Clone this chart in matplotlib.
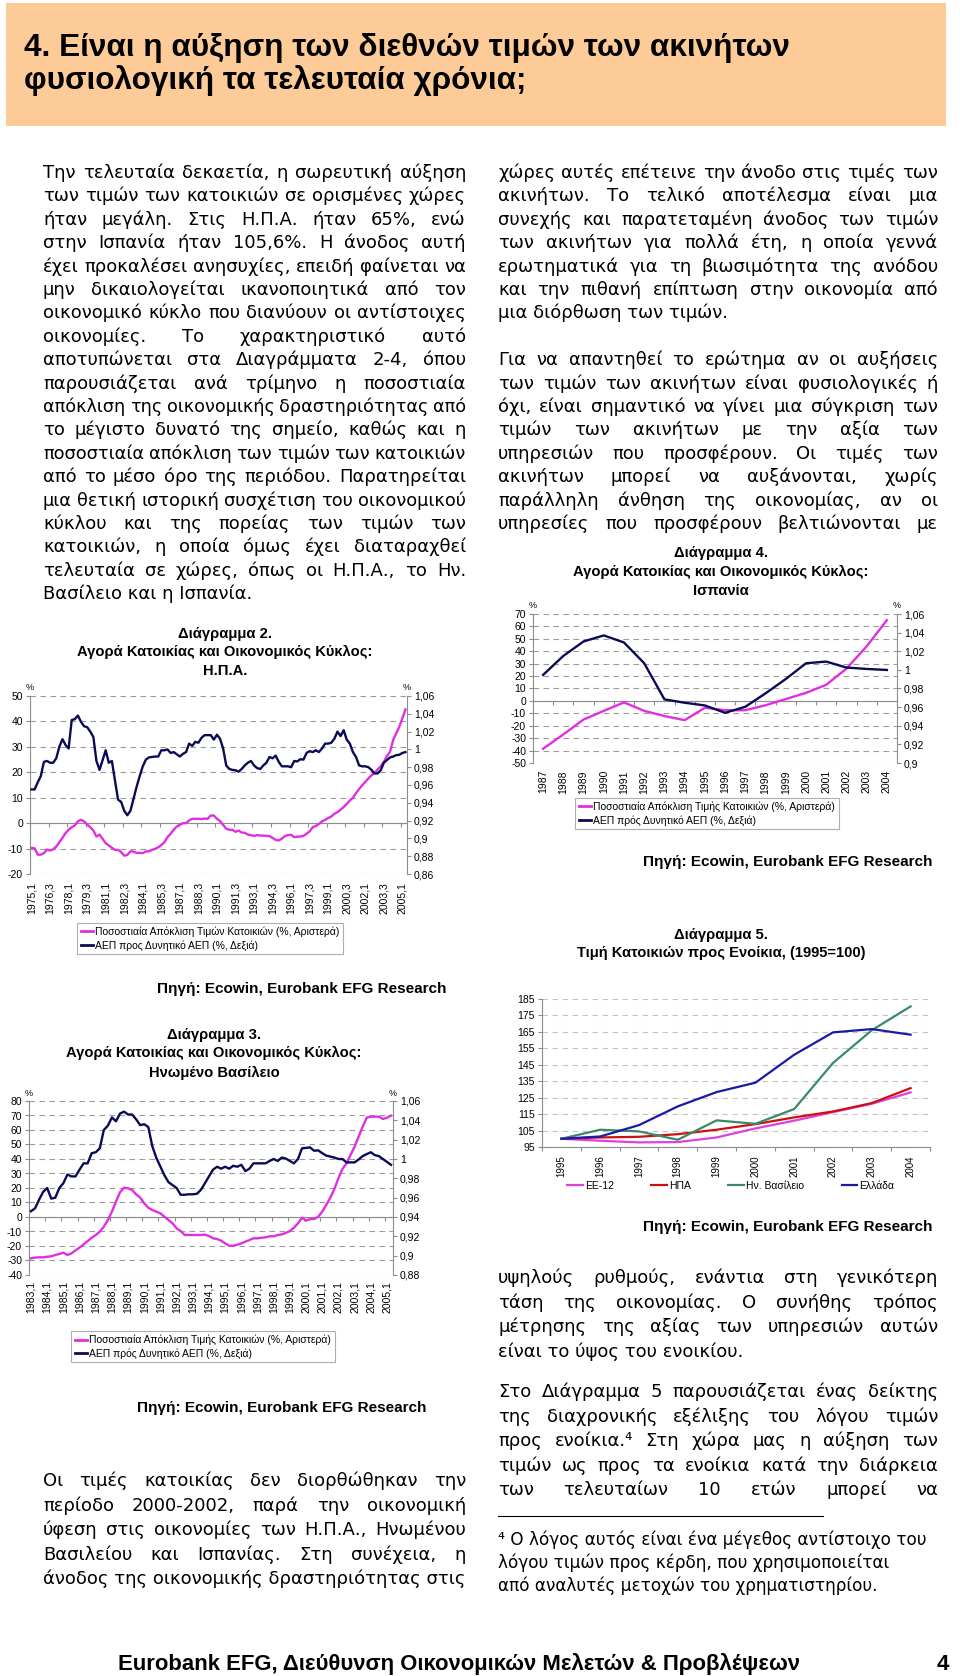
import numpy as np
import matplotlib
matplotlib.use("Agg")
import matplotlib.pyplot as plt
from matplotlib.lines import Line2D
from matplotlib.patches import Rectangle
from matplotlib.ticker import FuncFormatter

plt.rcParams["axes.unicode_minus"] = False
plt.rcParams["font.family"] = ["DejaVu Sans"]

W, H = 960, 1676
BODY = ["DejaVu Sans"]
ARIAL = ["Liberation Sans", "DejaVu Sans"]
GRAY = "#8c8c8c"
PINK = "#E02FE0"
NAVY = "#0B0B55"

# ---------------- data ----------------
# Διάγραμμα 2, Η.Π.Α., 1975,1 - 2005,2
usa_price = [-9.7, -9.9, -12.4, -12.4, -11.8, -10.4, -10.8, -10.3, -9.2, -7.5,
             -5.8, -3.9, -2.6, -1.6, -0.9, 0.7, 1.3, 0.7, -0.5, -1.6,
             -2.9, -5.3, -4.5, -6.2, -7.9, -8.8, -9.7, -10.5, -10.5, -11.4,
             -12.8, -12.5, -11.1, -11.2, -11.7, -11.7, -11.8, -11.1, -11.1, -10.5,
             -10.1, -9.5, -8.6, -7.5, -5.5, -4.2, -2.6, -1.3, -0.7, 0.0,
             0.0, 1.1, 1.7, 1.7, 1.7, 1.6, 1.8, 1.7, 3.0, 3.0,
             1.7, 0.8, -0.7, -2.2, -2.6, -2.6, -3.4, -2.9, -3.7, -3.8,
             -4.5, -4.7, -5.0, -4.7, -4.9, -4.9, -5.0, -5.1, -5.8, -6.6,
             -6.8, -6.1, -5.1, -4.7, -4.6, -5.5, -5.3, -5.3, -5.0, -4.2,
             -3.2, -1.6, -1.1, -0.3, 0.7, 1.3, 2.0, 2.6, 3.7, 4.3,
             5.3, 6.3, 7.6, 8.9, 10.0, 11.8, 13.4, 14.9, 16.2, 17.6,
             18.8, 19.7, 21.1, 22.4, 24.1, 26.4, 28.0, 32.6, 35.3, 37.9,
             41.2, 44.7]
usa_gdp = [0.955, 0.955, 0.963, 0.970, 0.986, 0.987, 0.985, 0.985, 0.990, 1.003,
           1.0115, 1.005, 1.001, 1.033, 1.034, 1.038, 1.031, 1.026, 1.025, 1.020,
           1.014, 0.987, 0.977, 0.988, 0.999, 0.985, 0.987, 0.965, 0.9435, 0.941,
           0.931, 0.926, 0.931, 0.9445, 0.958, 0.970, 0.981, 0.9885, 0.991, 0.9915,
           0.992, 0.992, 0.999, 0.999, 1.000, 0.996, 0.997, 0.9945, 0.992, 0.995,
           0.997, 1.0065, 1.004, 1.0085, 1.0075, 1.013, 1.016, 1.016, 1.016, 1.011,
           1.0165, 1.012, 1.001, 0.982, 0.978, 0.977, 0.9765, 0.975, 0.978, 0.982,
           0.985, 0.987, 0.982, 0.979, 0.978, 0.982, 0.985, 0.9915, 0.990, 0.993,
           0.986, 0.981, 0.981, 0.981, 0.980, 0.987, 0.9865, 0.989, 0.9885, 0.996,
           0.998, 0.997, 0.999, 0.997, 1.001, 1.0065, 1.0065, 1.0075, 1.012, 1.020,
           1.015, 1.0215, 1.011, 1.0065, 0.997, 0.9915, 0.982, 0.981, 0.981, 0.980,
           0.977, 0.973, 0.973, 0.9765, 0.985, 0.988, 0.991, 0.992, 0.9935, 0.994,
           0.996, 0.997]
usa_quarters = [f"{1975 + i // 4},{i % 4 + 1}" for i in range(len(usa_price))]

# Διάγραμμα 3, Ηνωμένο Βασίλειο, 1983,1 - 2005,2
uk_price = [-28.5, -28.0, -27.8, -27.8, -27.4, -27.1, -26.2, -25.5, -24.6, -26.2,
            -25.1, -23.0, -21.1, -18.9, -16.6, -14.3, -12.4, -10.1, -6.7, -2.1,
            3.7, 10.6, 17.0, 20.2, 19.8, 18.6, 15.6, 13.3, 9.4, 6.4,
            4.8, 3.7, 2.5, 0.2, -2.1, -4.4, -7.8, -9.7, -12.4, -12.4,
            -12.4, -12.4, -12.4, -12.2, -13.1, -14.7, -15.2, -16.3, -18.2, -19.8,
            -19.8, -19.1, -18.2, -17.0, -15.9, -14.7, -14.7, -14.3, -14.0, -13.3,
            -13.3, -12.4, -12.0, -11.0, -9.7, -7.4, -4.4, -0.5, -2.5, -1.4,
            -1.4, 0.2, 3.7, 8.3, 13.3, 19.3, 26.7, 33.1, 37.0, 42.8,
            48.5, 55.4, 62.3, 68.5, 69.2, 69.2, 69.2, 67.6, 68.5, 69.9]
uk_gdp = [0.946, 0.949, 0.958, 0.966, 0.970, 0.959, 0.960, 0.970, 0.975, 0.984,
          0.982, 0.982, 0.989, 0.9955, 0.9955, 1.006, 1.007, 1.011, 1.030, 1.0345,
          1.043, 1.039, 1.047, 1.049, 1.046, 1.046, 1.041, 1.035, 1.036, 1.033,
          1.013, 1.001, 0.992, 0.983, 0.976, 0.973, 0.970, 0.963, 0.963, 0.9635,
          0.9635, 0.964, 0.968, 0.975, 0.982, 0.989, 0.992, 0.990, 0.992, 0.990,
          0.993, 0.992, 0.994, 0.9875, 0.990, 0.9955, 0.9955, 0.9955, 0.9955, 0.998,
          1.000, 0.998, 1.0015, 1.0005, 0.998, 0.9955, 1.000, 1.011, 1.0115, 1.012,
          1.0085, 1.009, 1.006, 1.0035, 1.0025, 1.0015, 1.000, 1.000, 0.9965, 0.9965,
          0.9965, 0.9995, 1.003, 1.005, 1.007, 1.004, 1.003, 1.000, 0.997, 0.994]
uk_quarters = [f"{1983 + i // 4},{i % 4 + 1}" for i in range(len(uk_price))]

# Διάγραμμα 4, Ισπανία
es_years = [str(y) for y in range(1987, 2005)]
es_price = [-38.5, -27, -15, -8, -1.2, -8, -12.2, -15.5, -5.5, -7.5,
            -7.5, -3.5, 1.5, 6.5, 13, 26, 44, 65]
es_gdp = [0.9946, 1.015, 1.0305, 1.037, 1.0294, 1.0071, 0.9683, 0.9647, 0.9618, 0.9539,
          0.9604, 0.9748, 0.9902, 1.0071, 1.0089, 1.0025, 1.001, 0.9999]

# Διάγραμμα 5, τιμή κατοικιών προς ενοίκια (1995=100)
rent_years = [str(y) for y in range(1995, 2005)]
rent_eu12 = [100, 98.8, 97.8, 98.0, 100.8, 106.3, 111.0, 116.2, 121.3, 128.2]
rent_usa = [100, 100.8, 101.2, 102.8, 105.5, 108.9, 113.0, 116.6, 121.7, 130.8]
rent_uk = [100, 105.5, 104.5, 99.4, 111.2, 109.1, 118.1, 146.1, 166.0, 180.5]
rent_gr = [100, 101.4, 108.3, 119.7, 128.4, 134.1, 151.1, 164.7, 166.7, 163.3]
rent_labels = ["EE-12", "ΗΠΑ", "Ην. Βασίλειο", "Ελλάδα"]

# ---------------- page ----------------
fig = plt.figure(figsize=(9.6, 16.76), dpi=100)
renderer = fig.canvas.get_renderer()


def fx(x):
    return x / W


def fy(y):
    return 1 - y / H


def put(x, y, s, **kw):
    return fig.text(fx(x), fy(y), s, **kw)


def width_of(s, size, family):
    t = put(0, 0, s, fontsize=size, family=family)
    w = t.get_window_extent(renderer).width
    t.remove()
    return w


def paragraph(lines, x0, x1, y0, dy, size=13, last_justified=False):
    span = x1 - x0
    for k, line in enumerate(lines):
        y = y0 + k * dy
        words = line.split()
        sz = size
        ws = [width_of(w, sz, BODY) for w in words]
        min_gap = 0.3 * sz * 100 / 72
        natural = sum(ws) + min_gap * (len(words) - 1)
        if natural > span:
            sz = size * span / natural
            ws = [width_of(w, sz, BODY) for w in words]
        if (k == len(lines) - 1 and not last_justified) or len(words) < 2:
            put(x0, y, " ".join(words), fontsize=sz, family=BODY, va="baseline")
            continue
        gap = (span - sum(ws)) / (len(words) - 1)
        x = x0
        for w, wd in zip(words, ws):
            put(x, y, w, fontsize=sz, family=BODY, va="baseline")
            x += wd + gap


# header
fig.add_artist(Rectangle((fx(6), fy(126)), 940 / W, 123 / H, transform=fig.transFigure,
                         facecolor="#FCCB98", edgecolor="none"))
put(24, 56, "4. Είναι η αύξηση των διεθνών τιμών των ακινήτων", fontsize=22.7,
    weight="bold", family=ARIAL, va="baseline")
put(24, 89, "φυσιολογική τα τελευταία χρόνια;", fontsize=22.7,
    weight="bold", family=ARIAL, va="baseline")

LX0, LX1 = 43, 466
RX0, RX1 = 498, 938
Y1, DY = 178, 23.4

paragraph([
    "Την τελευταία δεκαετία, η σωρευτική αύξηση",
    "των τιμών των κατοικιών σε ορισμένες χώρες",
    "ήταν μεγάλη.  Στις Η.Π.Α. ήταν  65%, ενώ",
    "στην Ισπανία ήταν 105,6%.  Η άνοδος αυτή",
    "έχει προκαλέσει ανησυχίες, επειδή φαίνεται να",
    "μην δικαιολογείται ικανοποιητικά από τον",
    "οικονομικό κύκλο που διανύουν οι αντίστοιχες",
    "οικονομίες.  Το χαρακτηριστικό αυτό",
    "αποτυπώνεται στα Διαγράμματα 2-4, όπου",
    "παρουσιάζεται ανά τρίμηνο η ποσοστιαία",
    "απόκλιση της οικονομικής δραστηριότητας από",
    "το μέγιστο δυνατό της σημείο, καθώς και η",
    "ποσοστιαία απόκλιση των τιμών των κατοικιών",
    "από το μέσο όρο της περιόδου.  Παρατηρείται",
    "μια θετική ιστορική συσχέτιση του οικονομικού",
    "κύκλου και της πορείας των τιμών των",
    "κατοικιών, η οποία όμως έχει διαταραχθεί",
    "τελευταία σε χώρες, όπως οι Η.Π.Α., το Ην.",
    "Βασίλειο και η Ισπανία.",
], LX0, LX1, Y1, DY)

paragraph([
    "χώρες αυτές επέτεινε την άνοδο στις τιμές των",
    "ακινήτων.  Το τελικό αποτέλεσμα είναι μια",
    "συνεχής και παρατεταμένη άνοδος των τιμών",
    "των ακινήτων για πολλά έτη, η οποία γεννά",
    "ερωτηματικά για τη βιωσιμότητα της ανόδου",
    "και την πιθανή επίπτωση στην οικονομία από",
    "μια διόρθωση των τιμών.",
], RX0, RX1, Y1, DY)

paragraph([
    "Για να απαντηθεί το ερώτημα αν οι αυξήσεις",
    "των τιμών των ακινήτων είναι φυσιολογικές ή",
    "όχι, είναι σημαντικό να γίνει μια σύγκριση των",
    "τιμών των ακινήτων με την αξία των",
    "υπηρεσιών που προσφέρουν.  Οι τιμές των",
    "ακινήτων μπορεί να αυξάνονται, χωρίς",
    "παράλληλη άνθηση της οικονομίας, αν οι",
    "υπηρεσίες που προσφέρουν βελτιώνονται με",
], RX0, RX1, Y1 + 8 * DY, DY, last_justified=True)

paragraph([
    "υψηλούς ρυθμούς, ενάντια στη γενικότερη",
    "τάση της οικονομίας.  Ο συνήθης τρόπος",
    "μέτρησης της αξίας των υπηρεσιών αυτών",
    "είναι το ύψος του ενοικίου.",
], RX0, RX1, 1283, 24.5)

paragraph([
    "Στο Διάγραμμα 5 παρουσιάζεται ένας δείκτης",
    "της διαχρονικής εξέλιξης του λόγου τιμών",
    "προς ενοίκια.⁴  Στη χώρα μας η αύξηση των",
    "τιμών ως προς τα ενοίκια κατά την διάρκεια",
    "των τελευταίων 10 ετών μπορεί να",
], RX0, RX1, 1397, 24.5, last_justified=True)

fig.add_artist(Line2D([fx(498), fx(823)], [fy(1516), fy(1516)], color="black", lw=0.8))
for k, line in enumerate([
    "⁴ Ο λόγος αυτός είναι ένα μέγεθος αντίστοιχο του",
    "λόγου τιμών προς κέρδη, που χρησιμοποιείται",
    "από αναλυτές μετοχών του χρηματιστηρίου.",
]):
    put(RX0, 1545 + k * 23, line, fontsize=12.2, family=BODY, va="baseline")

paragraph([
    "Οι τιμές κατοικίας δεν διορθώθηκαν την",
    "περίοδο 2000-2002, παρά την οικονομική",
    "ύφεση στις οικονομίες των Η.Π.Α., Ηνωμένου",
    "Βασιλείου και Ισπανίας.  Στη συνέχεια, η",
    "άνοδος της οικονομικής δραστηριότητας στις",
], LX0, LX1, 1486, 24.6)

put(118, 1670, "Eurobank EFG, Διεύθυνση Οικονομικών Μελετών & Προβλέψεων",
    fontsize=15.9, weight="bold", family=ARIAL, va="baseline")
put(937, 1670, "4", fontsize=15.9, weight="bold", family=ARIAL, va="baseline")


# ---------------- charts ----------------
def comma(v, pos):
    s = f"{v:.2f}".rstrip("0").rstrip(".")
    return s.replace(".", ",")


def title(lines, cx, ys):
    for s, y in zip(lines, ys):
        put(cx, y, s, fontsize=10.6, weight="bold", family=ARIAL, ha="center", va="center")


def source(cx, y):
    put(cx, y, "Πηγή: Ecowin, Eurobank EFG Research", fontsize=11, weight="bold",
        family=ARIAL, ha="center", va="center")


def cat_labels(ax, labels, step, gap_px, height_px, size=7.5):
    for i in range(0, len(labels), step):
        ax.text(i, -gap_px / height_px, labels[i], rotation=90, ha="center", va="top",
                transform=ax.get_xaxis_transform(), fontsize=size, family=ARIAL)


def cycle_chart(box, price, gdp, labels, step, lims, lticks, rlims, rticks, gap_px):
    x0, y0, x1, y1 = box
    ax = fig.add_axes([fx(x0), fy(y1), (x1 - x0) / W, (y1 - y0) / H])
    n = len(price)
    xs = np.arange(n)
    ax.plot(xs, price, color=PINK, lw=1.7, zorder=3)
    ax.set_xlim(-0.5, n - 0.5)
    ax.set_ylim(*lims)
    ax.set_yticks(lticks)
    rax = ax.twinx()
    rax.plot(xs, gdp, color=NAVY, lw=1.7)
    rax.set_ylim(*rlims)
    rax.set_yticks(rticks)
    rax.yaxis.set_major_formatter(FuncFormatter(comma))

    ax.spines["top"].set_visible(False)
    ax.spines["right"].set_visible(False)
    rax.spines["top"].set_visible(False)
    rax.spines["left"].set_visible(False)
    rax.spines["bottom"].set_visible(False)
    ax.spines["left"].set_color(GRAY)
    rax.spines["right"].set_color(GRAY)
    ax.spines["bottom"].set_color(GRAY)
    ax.spines["bottom"].set_position(("data", 0))
    for a in (ax, rax):
        a.tick_params(axis="y", length=3, color=GRAY, labelsize=7.5, pad=2,
                      labelfontfamily="Liberation Sans")
    ax.yaxis.grid(True, ls=(0, (5, 4)), color="#9a9a9a", lw=0.8)
    ax.set_axisbelow(True)
    ax.set_xticks(np.arange(-0.5, n, step))
    ax.tick_params(axis="x", length=3, color=GRAY, labelbottom=False)
    cat_labels(ax, labels, step, gap_px, y1 - y0)
    put(x0, y0 - 8, "%", fontsize=6.5, family=ARIAL, ha="center", va="center")
    put(x1, y0 - 8, "%", fontsize=6.5, family=ARIAL, ha="center", va="center")
    return ax, rax


def box_legend(labels, x, y):
    handles = [Line2D([], [], color=PINK, lw=2), Line2D([], [], color=NAVY, lw=2)]
    leg = fig.legend(handles, labels, loc="upper left", bbox_to_anchor=(fx(x), fy(y)),
                     prop={"family": ARIAL, "size": 7.5}, frameon=True, fancybox=False,
                     edgecolor="#9a9a9a", handlelength=1.2, handletextpad=0.2,
                     borderpad=0.35, labelspacing=0.3, borderaxespad=0)
    leg.get_frame().set_linewidth(0.8)


# Διάγραμμα 2
title(["Διάγραμμα 2.", "Αγορά Κατοικίας και Οικονομικός Κύκλος:", "Η.Π.Α."], 225, [634, 652, 671])
cycle_chart((30, 696, 407, 874), usa_price, usa_gdp, usa_quarters, 6,
            (-20, 50), range(-20, 51, 10), (0.86, 1.06), np.arange(0.86, 1.0601, 0.02), 8)
box_legend(["Ποσοστιαία Απόκλιση Τιμών Κατοικιών (%, Αριστερά)",
            "ΑΕΠ προς Δυνητικό ΑΕΠ (%, Δεξιά)"], 77, 923)
source(302, 989)

# Διάγραμμα 3
title(["Διάγραμμα 3.", "Αγορά Κατοικίας και Οικονομικός Κύκλος:", "Ηνωμένο Βασίλειο"],
      214, [1035, 1053, 1073])
cycle_chart((29, 1101, 393, 1275), uk_price, uk_gdp, uk_quarters, 4,
            (-40, 80), range(-40, 81, 10), (0.88, 1.06), np.arange(0.88, 1.0601, 0.02), 6)
box_legend(["Ποσοστιαία Απόκλιση Τιμής Κατοικιών (%, Αριστερά)",
            "ΑΕΠ πρός Δυνητικό ΑΕΠ (%, Δεξιά)"], 71, 1331)
source(282, 1408)

# Διάγραμμα 4
title(["Διάγραμμα 4.", "Αγορά Κατοικίας και Οικονομικός Κύκλος:", "Ισπανία"],
      721, [553, 572, 591])
cycle_chart((533, 614, 897, 763), es_price, es_gdp, es_years, 1,
            (-50, 70), range(-50, 71, 10), (0.9, 1.06), np.arange(0.9, 1.0601, 0.02), 7)
box_legend(["Ποσοστιαία Απόκλιση Τιμής Κατοικιών (%, Αριστερά)",
            "ΑΕΠ πρός Δυνητικό ΑΕΠ (%, Δεξιά)"], 575, 798)
source(788, 862)

# Διάγραμμα 5
title(["Διάγραμμα 5.", "Τιμή Κατοικιών προς Ενοίκια, (1995=100)"], 721, [935, 953])
x0, y0, x1, y1 = 542, 999, 930, 1147
ax5 = fig.add_axes([fx(x0), fy(y1), (x1 - x0) / W, (y1 - y0) / H])
xs = np.arange(len(rent_years))
for vals, col, lab in zip([rent_eu12, rent_usa, rent_uk, rent_gr],
                          ["#E040E0", "#CC1010", "#3A8A68", "#1A1AA8"], rent_labels):
    ax5.plot(xs, vals, color=col, lw=1.6, label=lab)
ax5.set_xlim(-0.5, len(xs) - 0.5)
ax5.set_ylim(95, 185)
ax5.set_yticks(range(95, 186, 10))
ax5.set_xticks(np.arange(-0.5, len(xs), 1))
ax5.tick_params(axis="x", length=3, color=GRAY, labelbottom=False)
ax5.tick_params(axis="y", length=3, color=GRAY, labelsize=7.5, pad=2,
                labelfontfamily="Liberation Sans")
ax5.spines["top"].set_visible(False)
ax5.spines["right"].set_visible(False)
ax5.spines["left"].set_color(GRAY)
ax5.spines["bottom"].set_color(GRAY)
ax5.yaxis.grid(True, ls=(0, (5, 4)), color="#c4c4c4", lw=0.8)
ax5.set_axisbelow(True)
cat_labels(ax5, rent_years, 1, 8, y1 - y0, size=7)
fig.legend(*ax5.get_legend_handles_labels(), loc="upper left",
           bbox_to_anchor=(fx(567), fy(1181)), ncol=4, frameon=False,
           prop={"family": ARIAL, "size": 7.5}, handlelength=1.5, handletextpad=0.2,
           columnspacing=3.6, borderpad=0, borderaxespad=0)
source(788, 1227)

fig.savefig("out.png", dpi=100)
